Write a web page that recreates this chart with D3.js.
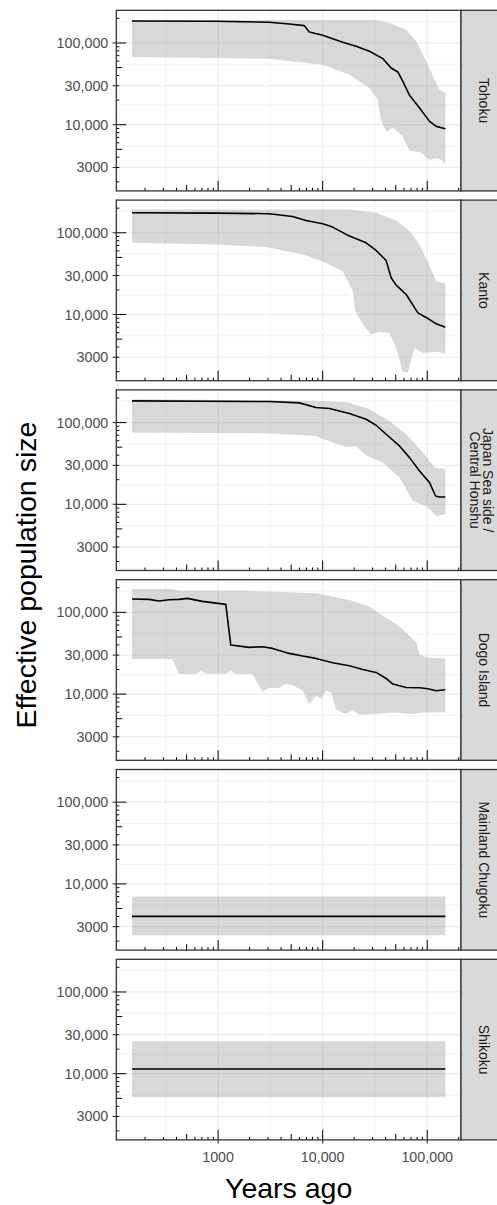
<!DOCTYPE html>
<html>
<head>
<meta charset="utf-8">
<script src="https://cdn.jsdelivr.net/npm/d3@7"></script>
<style>
  body { margin: 0; background: #fff; }
  svg { display: block; font-family: "Liberation Sans", Arial, sans-serif; }
</style>
</head>
<body>
<div id="chart"></div>
<script>
// facet labels, top to bottom
const populations = ["Tohoku", "Kanto", "Japan Sea side /\nCentral Honshu", "Dogo Island", "Mainland Chugoku", "Shikoku"];

// [years ago, effective population size]
const tohokuMedian = [[150,185900],[950,184200],[3080,179100],[4790,170900],[6670,163000],[7450,136400],[10000,124100],[15550,101900],[20870,91030],[28020,79070],[37590,64310],[45180,49430],[52340,44150],[58460,33930],[67730,22870],[84440,16000],[105300,10990],[122000,9540],[149000,8930]];
const tohokuUpper = [[150,191300],[32450,191300],[43550,175800],[62930,145600],[78460,104800],[97820,59650],[117600,35560],[131300,26830],[149000,24420]];
const tohokuLower = [[150,67400],[3080,64310],[10000,54300],[18010,40950],[28020,28120],[33670,20240],[36230,10990],[41060,8130],[46870,9280],[58460,7200],[67730,4805],[84440,4630],[105300,3730],[122000,3910],[136200,3730],[149000,3300]];

const kantoMedian = [[150,175800],[950,174100],[3080,170900],[5158,158500],[6922,141600],[10000,128900],[12470,117300],[18010,91030],[26020,75450],[32450,60780],[40460,45840],[45180,28120],[50460,22870],[62930,17580],[81400,10480],[101500,8930],[122000,7690],[149000,7000]];
const kantoUpper = [[150,193100],[18010,193100],[32450,175800],[50460,141600],[67730,104800],[84440,71970],[105300,39070],[122000,25600],[149000,24200]];
const kantoLower = [[150,75450],[950,71970],[2863,66770],[6433,54300],[10000,44990],[15550,33930],[19390,19310],[20560,10990],[24180,7540],[29060,5690],[34930,6140],[43550,5960],[50460,3910],[58460,1970],[65290,1970],[75630,3910],[90900,3390],[113300,3490],[131300,3490],[149000,3240]];

const japanSeaMedian = [[150,184200],[3080,180800],[5975,174100],[8634,152700],[11590,148400],[18010,128900],[26020,109900],[32450,92760],[40460,71970],[54300,51810],[67730,37270],[84440,25600],[105300,18420],[120200,12650],[131300,12300],[149000,12300]];
const japanSeaUpper = [[150,193100],[10000,184200],[18010,175800],[28020,145600],[43550,104800],[62930,71970],[90900,42920],[117600,28120],[149000,26830]];
const japanSeaLower = [[150,75450],[2863,74040],[8634,68680],[12470,56910],[16730,50360],[20870,51810],[26020,39810],[37590,32370],[54300,21210],[72910,10990],[97820,9540],[122000,7200],[149000,7540]];

const dogoMedian = [[150,145600],[218,144300],[272,137700],[339,142900],[423,144300],[508,148400],[708,136400],[1184,125300],[1322,39810],[1982,37270],[2660,37980],[3317,36240],[4793,31480],[6433,29190],[8634,27340],[12470,24200],[18010,22230],[24180,20050],[32450,18420],[40460,15550],[46870,13260],[62930,12070],[84440,11960],[101500,11620],[122000,10990],[149000,11300]];
const dogoUpper = [[150,193100],[365,193100],[423,184200],[1982,184200],[8634,170900],[18010,141600],[28020,117300],[37590,91030],[50460,71970],[62930,56910],[78460,42920],[84440,30890],[97820,28120],[149000,27340]];
const dogoLower = [[150,26830],[365,26830],[423,17580],[611,17580],[682,19310],[762,17910],[1184,17580],[1322,19310],[1477,17580],[2134,17580],[2660,10780],[3083,11840],[3843,11840],[4454,13260],[5158,12890],[6433,10990],[7452,7540],[8634,9540],[9640,8690],[10760,10990],[12020,10480],[13420,6550],[16730,5690],[19390,6370],[22460,5580],[28020,5690],[50460,5960],[72910,5690],[90900,5960],[149000,6020]];

const chugokuMedian = [[150,4010],[149000,4010]];
const chugokuUpper = [[150,7000],[149000,7000]];
const chugokuLower = [[150,2350],[149000,2350]];

const shikokuMedian = [[150,11400],[149000,11400]];
const shikokuUpper = [[150,25000],[149000,25000]];
const shikokuLower = [[150,5140],[149000,5140]];

const medians = [tohokuMedian, kantoMedian, japanSeaMedian, dogoMedian, chugokuMedian, shikokuMedian];
const uppers = [tohokuUpper, kantoUpper, japanSeaUpper, dogoUpper, chugokuUpper, shikokuUpper];
const lowers = [tohokuLower, kantoLower, japanSeaLower, dogoLower, chugokuLower, shikokuLower];

const yLimits = [1550, 251000];
const yTicks = [3000, 10000, 30000, 100000];
const yTickLabels = ["3000", "10,000", "30,000", "100,000"];
const xTicks = [1000, 10000, 100000];
const xTickLabels = ["1000", "10,000", "100,000"];

const W = 497, H = 1205;
const panelLeft = 116.3, panelW = 344.7, panelTop = 10.3, panelH = 180.6, panelStep = 189.8;
const stripW = 46;

const svg = d3.select("#chart").append("svg")
  .attr("width", W)
  .attr("height", H);

// x scale: data range expanded by 5% in log space
const xExt = d3.extent(medians.flat(), d => d[0]).map(Math.log10);
const xPad = (xExt[1] - xExt[0]) * 0.05;
const x = d3.scaleLog()
  .domain([10 ** (xExt[0] - xPad), 10 ** (xExt[1] + xPad)])
  .range([panelLeft, panelLeft + panelW]);
const y = d3.scaleLog().domain(yLimits).range([panelH, 0]);

// minor grid between major breaks (log midpoints), like ggplot
function minorBreaks(major, dom) {
  const l = major.map(Math.log10);
  const ext = [2 * l[0] - l[1], ...l, 2 * l[l.length - 1] - l[l.length - 2]];
  const out = [];
  for (let i = 0; i < ext.length - 1; i++) out.push(10 ** ((ext[i] + ext[i + 1]) / 2));
  return out.filter(v => v > dom[0] && v < dom[1]);
}
const xMinor = minorBreaks(xTicks, x.domain());
const yMinor = minorBreaks(yTicks, y.domain());

function logTicks(dom) {
  const out = [];
  for (let k = 1; k <= 6; k++) {
    for (let m = 1; m <= 9; m++) {
      const v = m * 10 ** k;
      if (v >= dom[0] && v <= dom[1]) out.push({v: v, len: m === 1 ? 10 : (m === 5 ? 6 : 3)});
    }
  }
  return out;
}
const xLogTicks = logTicks(x.domain());
const yLogTicks = logTicks(y.domain());

const line = d3.line().x(d => x(d[0])).y(d => y(d[1]));

populations.forEach(function (name, i) {
  const g = svg.append("g")
    .attr("class", "panel")
    .attr("transform", `translate(0,${panelTop + i * panelStep})`);

  g.append("rect")
    .attr("x", panelLeft).attr("y", 0)
    .attr("width", panelW).attr("height", panelH)
    .attr("fill", "#fff");

  // grid
  g.selectAll(".xminor").data(xMinor).enter().append("line")
    .attr("x1", d => x(d)).attr("x2", d => x(d))
    .attr("y1", 0).attr("y2", panelH)
    .attr("stroke", "#EBEBEB").attr("stroke-width", 0.6);
  g.selectAll(".yminor").data(yMinor).enter().append("line")
    .attr("x1", panelLeft).attr("x2", panelLeft + panelW)
    .attr("y1", d => y(d)).attr("y2", d => y(d))
    .attr("stroke", "#EBEBEB").attr("stroke-width", 0.6);
  g.selectAll(".xmajor").data(xTicks).enter().append("line")
    .attr("x1", d => x(d)).attr("x2", d => x(d))
    .attr("y1", 0).attr("y2", panelH)
    .attr("stroke", "#EBEBEB").attr("stroke-width", 1.2);
  g.selectAll(".ymajor").data(yTicks).enter().append("line")
    .attr("x1", panelLeft).attr("x2", panelLeft + panelW)
    .attr("y1", d => y(d)).attr("y2", d => y(d))
    .attr("stroke", "#EBEBEB").attr("stroke-width", 1.2);

  // confidence band: upper edge then lower edge reversed
  const band = uppers[i].concat(lowers[i].slice().reverse());
  g.append("path")
    .attr("d", line(band) + "Z")
    .attr("fill", "#999999")
    .attr("fill-opacity", 0.38);

  g.append("path")
    .attr("d", line(medians[i]))
    .attr("fill", "none")
    .attr("stroke", "#000")
    .attr("stroke-width", 1.6)
    .attr("stroke-linejoin", "round");

  // log ticks inside the panel
  g.selectAll(".lt-x").data(xLogTicks).enter().append("line")
    .attr("x1", d => x(d.v)).attr("x2", d => x(d.v))
    .attr("y1", panelH).attr("y2", d => panelH - d.len)
    .attr("stroke", "#000").attr("stroke-width", 1);
  g.selectAll(".lt-y").data(yLogTicks).enter().append("line")
    .attr("x1", panelLeft).attr("x2", d => panelLeft + d.len)
    .attr("y1", d => y(d.v)).attr("y2", d => y(d.v))
    .attr("stroke", "#000").attr("stroke-width", 1);

  g.append("rect")
    .attr("x", panelLeft).attr("y", 0)
    .attr("width", panelW).attr("height", panelH)
    .attr("fill", "none")
    .attr("stroke", "#333333").attr("stroke-width", 1.3);

  // y axis
  g.selectAll(".ytick").data(yTicks).enter().append("line")
    .attr("x1", panelLeft - 3.7).attr("x2", panelLeft)
    .attr("y1", d => y(d)).attr("y2", d => y(d))
    .attr("stroke", "#333333").attr("stroke-width", 1.1);
  g.selectAll(".ylab").data(yTicks).enter().append("text")
    .attr("x", panelLeft - 8)
    .attr("y", d => y(d))
    .attr("dy", "0.35em")
    .attr("text-anchor", "end")
    .attr("font-size", "14.3px")
    .attr("fill", "#4D4D4D")
    .text((d, j) => yTickLabels[j]);

  // strip on the right
  g.append("rect")
    .attr("x", panelLeft + panelW).attr("y", 0)
    .attr("width", stripW).attr("height", panelH)
    .attr("fill", "#D9D9D9")
    .attr("stroke", "#333333").attr("stroke-width", 1.3);
  const lines = name.split("\n");
  const cx = panelLeft + panelW + (lines.length > 1 ? 20.5 : 23);
  const st = g.append("text")
    .attr("transform", `translate(${cx},${panelH / 2}) rotate(90)`)
    .attr("text-anchor", "middle")
    .attr("font-size", "14px")
    .attr("fill", "#1A1A1A");
  lines.forEach(function (t, j) {
    st.append("tspan")
      .attr("x", 0)
      .attr("y", 4.9 + (j - (lines.length - 1) / 2) * 12.6)
      .text(t);
  });
});

// x axis on the bottom panel
const bottom = panelTop + (populations.length - 1) * panelStep + panelH;
svg.selectAll(".xtick").data(xTicks).enter().append("line")
  .attr("x1", d => x(d)).attr("x2", d => x(d))
  .attr("y1", bottom).attr("y2", bottom + 3.7)
  .attr("stroke", "#333333").attr("stroke-width", 1.1);
svg.selectAll(".xlab").data(xTicks).enter().append("text")
  .attr("x", d => x(d))
  .attr("y", bottom + 17.5)
  .attr("dy", "0.35em")
  .attr("text-anchor", "middle")
  .attr("font-size", "14.3px")
  .attr("fill", "#4D4D4D")
  .text((d, j) => xTickLabels[j]);

svg.append("text")
  .attr("x", panelLeft + panelW / 2)
  .attr("y", 1198)
  .attr("text-anchor", "middle")
  .attr("font-size", "28.5px")
  .attr("fill", "#000")
  .text("Years ago");

svg.append("text")
  .attr("transform", `translate(36,${panelTop + (bottom - panelTop) / 2}) rotate(-90)`)
  .attr("text-anchor", "middle")
  .attr("font-size", "28.5px")
  .attr("fill", "#000")
  .text("Effective population size");
</script>
</body>
</html>
